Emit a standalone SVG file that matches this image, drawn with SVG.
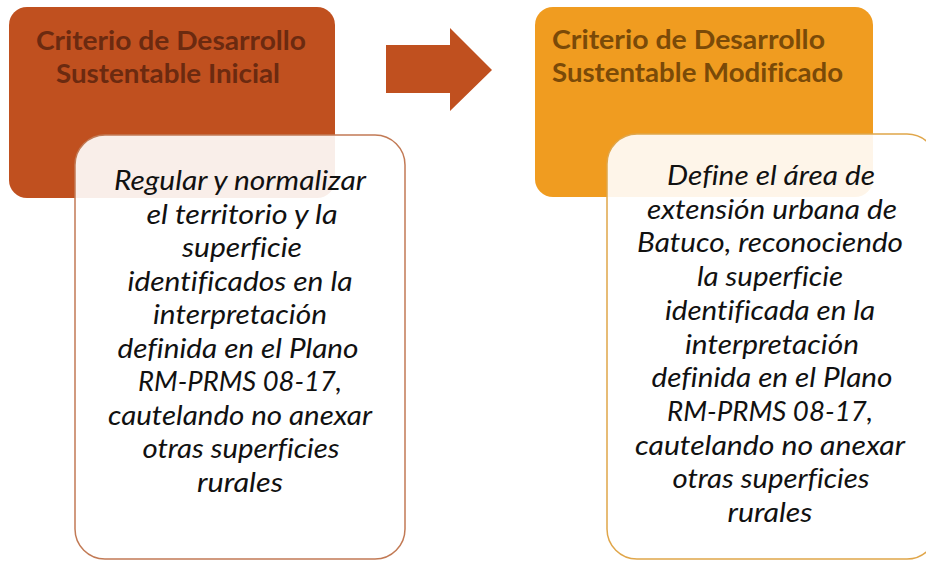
<svg xmlns="http://www.w3.org/2000/svg" width="926" height="562" viewBox="0 0 926 562">
<style>
.hdr{font-family:Lato,"Liberation Sans",sans-serif;font-weight:700;font-size:27px;font-variant-ligatures:none}
.body{font-family:Lato,"Liberation Sans",sans-serif;font-style:italic;font-size:26.5px;fill:#111;text-anchor:middle;font-variant-ligatures:none}
.card{fill:#ffffff;fill-opacity:0.9;stroke-width:1.5}
</style>
<rect width="926" height="562" fill="#ffffff"/>
<g id="header-left">
<rect x="9" y="7" width="326" height="191" rx="18" fill="#c0501f"/>
<text class="hdr" fill="#6b2a10" x="36" y="50" textLength="270" lengthAdjust="spacingAndGlyphs">Criterio de Desarrollo</text>
<text class="hdr" fill="#6b2a10" x="56" y="83" textLength="224" lengthAdjust="spacingAndGlyphs">Sustentable Inicial</text>
</g>
<g id="body-left">
<rect class="card" x="75" y="135" width="330" height="424" rx="30" stroke="#c27a55"/>
<text class="body" x="240" y="190" textLength="252" lengthAdjust="spacingAndGlyphs">Regular y normalizar</text>
<text class="body" x="242" y="223.5" textLength="191" lengthAdjust="spacingAndGlyphs">el territorio y la</text>
<text class="body" x="242" y="257" textLength="120" lengthAdjust="spacingAndGlyphs">superficie</text>
<text class="body" x="240" y="290.5" textLength="225" lengthAdjust="spacingAndGlyphs">identificados en la</text>
<text class="body" x="240" y="324" textLength="174" lengthAdjust="spacingAndGlyphs">interpretación</text>
<text class="body" x="238" y="357.5" textLength="241" lengthAdjust="spacingAndGlyphs">definida en el Plano</text>
<text class="body" x="240" y="391" textLength="204" lengthAdjust="spacingAndGlyphs">RM-PRMS 08-17,</text>
<text class="body" x="240" y="424.5" textLength="264" lengthAdjust="spacingAndGlyphs">cautelando no anexar</text>
<text class="body" x="241" y="458" textLength="197" lengthAdjust="spacingAndGlyphs">otras superficies</text>
<text class="body" x="240" y="491.5" textLength="86" lengthAdjust="spacingAndGlyphs">rurales</text>
</g>
<g id="connectors">
<polygon points="386,45 450,45 450,28 492,70 450,111 450,93 386,93" fill="#c0501f"/>
</g>
<g id="header-right">
<rect x="535" y="7" width="338" height="190" rx="18" fill="#f09c20"/>
<text class="hdr" fill="#7a4a08" x="552" y="49" textLength="273" lengthAdjust="spacingAndGlyphs">Criterio de Desarrollo</text>
<text class="hdr" fill="#7a4a08" x="552" y="82" textLength="291" lengthAdjust="spacingAndGlyphs">Sustentable Modificado</text>
</g>
<g id="body-right">
<rect class="card" x="607" y="134" width="330" height="425" rx="30" stroke="#e0a64a"/>
<text class="body" x="771" y="185" textLength="208" lengthAdjust="spacingAndGlyphs">Define el área de</text>
<text class="body" x="772" y="218.7" textLength="250" lengthAdjust="spacingAndGlyphs">extensión urbana de</text>
<text class="body" x="770" y="252.4" textLength="266" lengthAdjust="spacingAndGlyphs">Batuco, reconociendo</text>
<text class="body" x="770" y="286" textLength="146" lengthAdjust="spacingAndGlyphs">la superficie</text>
<text class="body" x="770" y="319.8" textLength="210" lengthAdjust="spacingAndGlyphs">identificada en la</text>
<text class="body" x="772" y="353.5" textLength="174" lengthAdjust="spacingAndGlyphs">interpretación</text>
<text class="body" x="772" y="387" textLength="241" lengthAdjust="spacingAndGlyphs">definida en el Plano</text>
<text class="body" x="770" y="421" textLength="206" lengthAdjust="spacingAndGlyphs">RM-PRMS 08-17,</text>
<text class="body" x="770" y="454.6" textLength="270" lengthAdjust="spacingAndGlyphs">cautelando no anexar</text>
<text class="body" x="771" y="488" textLength="197" lengthAdjust="spacingAndGlyphs">otras superficies</text>
<text class="body" x="770" y="522" textLength="85" lengthAdjust="spacingAndGlyphs">rurales</text>
</g>
</svg>
